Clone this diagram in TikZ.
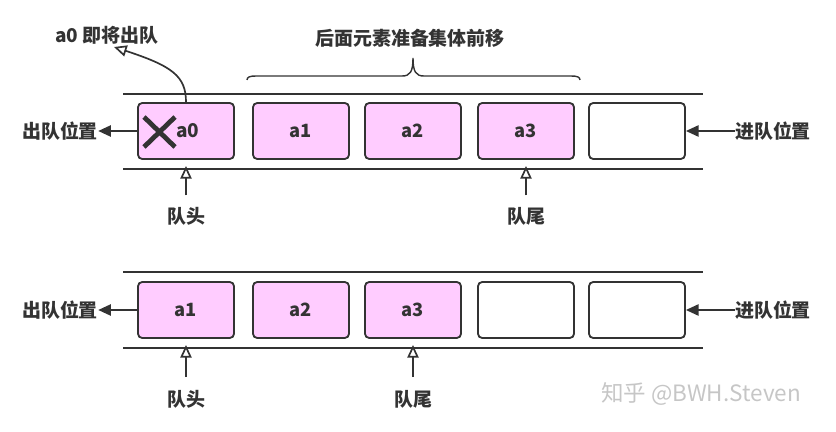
\documentclass[tikz,border=0pt]{standalone}
\usepackage{fontspec}
\newfontfamily\cjk{Noto Sans CJK SC}
\usetikzlibrary{arrows.meta,positioning}
\definecolor{elempink}{HTML}{FFCCFF}
\definecolor{inkgray}{HTML}{333333}
\tikzset{
  elem/.style={draw=inkgray, line width=1.3pt, rounded corners=3pt, fill=elempink,
    minimum width=2.4cm, minimum height=1.4cm, text=inkgray,
    font=\cjk\bfseries\fontsize{13}{15}\selectfont},
  freeslot/.style={elem, fill=white},
  lbl/.style={text=inkgray, inner sep=0pt, font=\cjk\bfseries\fontsize{13.5}{15}\selectfont},
  rail/.style={draw=inkgray, line width=1.4pt},
  ptr/.style={draw=inkgray, line width=1.2pt, -{Triangle[open, length=9pt, width=8pt]}},
  outarrow/.style={draw=inkgray, line width=1.2pt, -{Triangle[length=9pt, width=8pt]}},
}
\begin{document}
\begin{tikzpicture}[x=0.025cm, y=-0.025cm]
  \useasboundingbox (0,0) rectangle (836,432);

  % first row: a0 leaves
  \draw[rail] (123,94) -- (703,94);
  \draw[rail] (123,169) -- (703,169);
  \node[elem] (top1) at (186,131) {};
  \foreach \n/\x/\t in {2/301/a1, 3/413/a2, 4/526/a3}
    \node[elem] (top\n) at (\x,131) {\t};
  \node[freeslot] (top5) at (637,131) {};
  \node[lbl] (topval) at (188,131) {a0};
  \draw[inkgray, line width=3.4pt] (144,117) -- (175,147) (144,147) -- (175,117);

  \node[lbl] (outtop) at (60,131) {出队位置};
  \node[lbl] (intop) at (773,131) {进队位置};
  \draw[outarrow] (top1.west) -- (outtop.east);
  \draw[outarrow] (intop.west) -- (top5.east);

  \node[lbl] (headtop) at (186,216) {队头};
  \node[lbl] (tailtop) at (526,216) {队尾};
  \coordinate (headtip) at (186,166);
  \coordinate (tailtip) at (526,166);
  \draw[ptr] ([yshift=8pt]headtop.north) -- (headtip);
  \draw[ptr] ([yshift=8pt]tailtop.north) -- (tailtip);

  \node[lbl] (note) at (107,35) {a0 即将出队};
  \coordinate (notetip) at (114,47);
  \draw[ptr] (top1.north) .. controls (186,76) and (172,66) .. (notetip);

  % brace over a1..a3
  \draw[inkgray, line width=1pt] (247,80) .. controls (247,77) and (250,76) .. (256,76)
    -- (402,76) .. controls (410,76) and (413,72) .. (413,58)
    .. controls (413,72) and (416,76) .. (424,76)
    -- (571,76) .. controls (577,76) and (580,77) .. (580,80);
  \node[lbl] (shift) at (410,38) {后面元素准备集体前移};

  % second row: after dequeue
  \draw[rail] (123,272) -- (703,272);
  \draw[rail] (123,348) -- (703,348);
  \foreach \n/\x/\t in {1/186/a1, 2/301/a2, 3/413/a3}
    \node[elem] (bot\n) at (\x,310) {\t};
  \node[freeslot] (bot4) at (526,310) {};
  \node[freeslot] (bot5) at (637,310) {};

  \node[lbl] (outbot) at (60,310) {出队位置};
  \node[lbl] (inbot) at (773,310) {进队位置};
  \draw[outarrow] (bot1.west) -- (outbot.east);
  \draw[outarrow] (inbot.west) -- (bot5.east);

  \node[lbl] (headbot) at (186,399) {队头};
  \node[lbl] (tailbot) at (413,399) {队尾};
  \coordinate (headtipb) at (186,345);
  \coordinate (tailtipb) at (413,345);
  \draw[ptr] ([yshift=9pt]headbot.north) -- (headtipb);
  \draw[ptr] ([yshift=9pt]tailbot.north) -- (tailtipb);

  \node[text=gray!45, font=\cjk\fontsize{16}{18}\selectfont] (mark) at (701,394) {知乎 @BWH.Steven};
\end{tikzpicture}
\end{document}
